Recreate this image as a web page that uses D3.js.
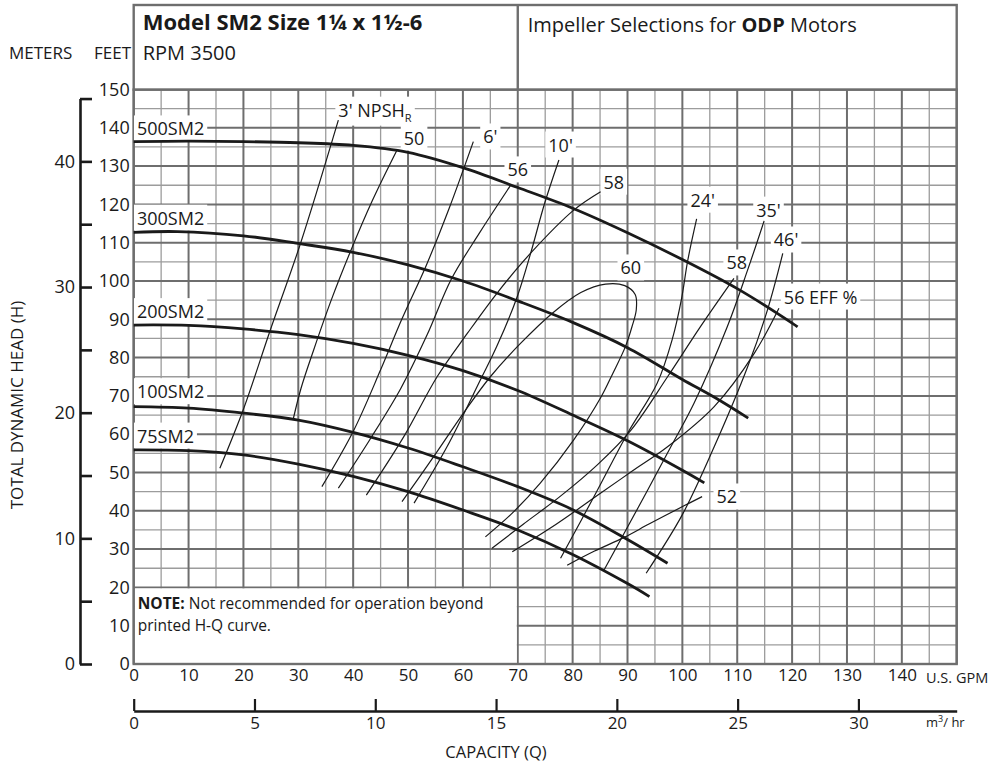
<!DOCTYPE html>
<html>
<head>
<meta charset="utf-8">
<script src="https://cdn.jsdelivr.net/npm/d3@7"></script>
<style>
  body { margin: 0; background: #fff; }
  svg { font-family: 'Open Sans', sans-serif; }
</style>
</head>
<body>
<svg id="chart" width="998" height="766"></svg>
<script>
// ---- ticks ----
const gpmTicks = [0, 10, 20, 30, 40, 50, 60, 70, 80, 90, 100, 110, 120, 130, 140];
const feetTicks = [0, 10, 20, 30, 40, 50, 60, 70, 80, 90, 100, 110, 120, 130, 140, 150];
const meterTicks = [0, 5, 10, 15, 20, 25, 30, 35, 40, 45];
const m3Ticks = [0, 5, 10, 15, 20, 25, 30];

// ---- head / capacity curves (GPM, feet) ----
const hq500 = [[0, 136.4], [10, 136.5], [20, 136.4], [30, 136.1], [40, 135.4], [50, 133.6], [60, 129.6], [70, 124.4], [80, 119], [90, 112.6], [100, 105.6], [110, 98], [120, 89], [121, 88]];
const hq300 = [[0, 112.7], [8, 112.9], [20, 111.8], [30, 109.8], [40, 107.5], [50, 104.2], [60, 100], [70, 94.8], [80, 89.2], [90, 82.6], [100, 74.3], [106, 69.5], [112, 64.2]];
const hq200 = [[0, 88.5], [10, 88.4], [20, 87.5], [30, 86], [40, 83.7], [50, 80.6], [60, 76.6], [70, 71.4], [80, 65], [90, 58.3], [100, 50.6], [104, 47.3]];
const hq100 = [[0, 67.2], [10, 66.8], [20, 65.5], [30, 63.7], [40, 60.5], [50, 56.4], [60, 51.5], [70, 46.3], [80, 40.3], [90, 32.5], [97.3, 26.3]];
const hq75 = [[0, 55.9], [10, 55.7], [20, 54.6], [30, 52.2], [40, 49], [50, 45], [60, 40.2], [70, 35], [80, 28.6], [90, 21], [94, 17.6]];
const hqNames = ['500SM2', '300SM2', '200SM2', '100SM2', '75SM2'];

// ---- NPSHr lines ----
const npsh3 = [[15.7, 51.1], [20, 66.5], [24.9, 87.2], [30.4, 109.8], [37.3, 142]];
const npsh6 = [[34.3, 46.3], [40, 60.7], [45, 76.8], [48.8, 89.8], [53.3, 104], [57.5, 119], [61.9, 136.4]];
const npsh10 = [[51.1, 42], [57.1, 56.7], [63.2, 74.2], [66.2, 83], [69.9, 95.9], [72.3, 107], [74.9, 120.3], [77.5, 131.6]];
const npsh24 = [[77.8, 27.6], [84, 44], [90, 60.2], [95.4, 73.3], [98.2, 85], [99.8, 95], [101, 105.5], [102.6, 116.2]];
const npsh35 = [[85.7, 24.5], [92, 41], [97.9, 56.7], [102.1, 68], [108.2, 88.1], [111.9, 102.9], [114.9, 115.7]];
const npsh46 = [[93.4, 23.7], [100, 39], [105.8, 56.7], [111.9, 77.6], [115.5, 92.4], [118.3, 107.2]];

// ---- efficiency lines ----
const eff50 = [[29.1, 64.1], [30.5, 72], [32.8, 82], [36, 95], [39.5, 107.7], [43.5, 121], [48, 134.2]];
const eff56a = [[37.3, 45.9], [43, 58.5], [48.7, 72], [53.5, 86], [57.9, 100.5], [63, 112.5], [68.7, 125]];
const eff58a = [[42.4, 44.1], [49.2, 59.3], [55.3, 75], [60.8, 86.3], [66.2, 96.8], [72.3, 107.2], [80.2, 118.5], [85.1, 123.3]];
const eff60 = [[48.9, 42.4], [54.7, 54.2], [60.1, 65.5], [65, 75], [70.5, 83.7], [76.3, 91.6], [81.5, 97], [86, 99.2], [89.5, 98.8], [91.4, 96.5], [91.6, 92.5], [90.8, 88], [89.6, 82.8], [87.3, 75.8], [85.1, 69.5], [80.2, 58.5], [74.1, 47.2], [69, 39.4], [64.1, 33.2]];
const eff58b = [[65.3, 30.2], [71, 36.5], [77.5, 43.5], [84.5, 52], [90.6, 61], [97.3, 75], [103.3, 88.1], [109.4, 100.7]];
const eff56b = [[69, 29.3], [77, 36.5], [85, 44.5], [91, 50.5], [97.3, 56.7], [105.8, 67.2], [113.1, 81.1], [117.6, 92.9]];
const eff52 = [[79, 25.8], [84, 29.5], [89.3, 33], [94, 36.6], [100.3, 41.3], [103.6, 43.7]];

// ---- annotation anchors (GPM, feet) ----
const hqLabelAt = [[0.6, 139.7], [0.6, 116.4], [0.6, 92], [0.6, 71.1], [0.6, 59.5]];
const lineLabels = [
  ['50', 51.1, 137.3], ["6'", 65, 137.6], ['56', 70, 129], ["10'", 77.8, 135.5],
  ['58', 87.5, 125.8], ['60', 90.6, 103.4], ["24'", 103.7, 121.1], ['58', 109.9, 104.7],
  ["35'", 115.7, 118.5], ["46'", 118.9, 110.7], ['52', 108.1, 43.6]
];

const FT_PER_M = 3.2808;
const GPM_PER_M3H = 4.4029;

const svg = d3.select('#chart');
const x = d3.scaleLinear().domain([0, 150]).range([133.7, 956.7]);
const y = d3.scaleLinear().domain([0, 150]).range([664, 89.5]);
const gridCol = '#6e6e6e';
const ink = '#1a1a1a';

// grid
const grid = svg.append('g');
const qs = x.ticks(30);
const hs = y.ticks(30);
grid.selectAll('.vminor').data(qs.filter(d => d % 10)).enter().append('line')
  .attr('x1', d => x(d)).attr('x2', d => x(d)).attr('y1', y(0)).attr('y2', y(150))
  .attr('stroke', '#9c9c9c').attr('stroke-width', 1.3);
grid.selectAll('.hminor').data(hs.filter(d => d % 10)).enter().append('line')
  .attr('y1', d => y(d)).attr('y2', d => y(d)).attr('x1', x(0)).attr('x2', x(150))
  .attr('stroke', '#9c9c9c').attr('stroke-width', 1.3);
grid.selectAll('.vmajor').data(qs.filter(d => d % 10 === 0)).enter().append('line')
  .attr('x1', d => x(d)).attr('x2', d => x(d)).attr('y1', y(0)).attr('y2', y(150))
  .attr('stroke', gridCol).attr('stroke-width', 2);
grid.selectAll('.hmajor').data(hs.filter(d => d % 10 === 0)).enter().append('line')
  .attr('y1', d => y(d)).attr('y2', d => y(d)).attr('x1', x(0)).attr('x2', x(150))
  .attr('stroke', gridCol).attr('stroke-width', 2);

// note box blanks the grid in the lower left
grid.append('rect')
  .attr('x', x(0) + 1).attr('y', y(20) + 1)
  .attr('width', x(70) - x(0) - 2).attr('height', y(0) - y(20) - 2)
  .attr('fill', '#fff');

// plot frame + header box
svg.append('rect').attr('x', x(0)).attr('y', y(150)).attr('width', x(150) - x(0)).attr('height', y(0) - y(150))
  .attr('fill', 'none').attr('stroke', gridCol).attr('stroke-width', 2.4);
svg.append('rect').attr('x', x(0)).attr('y', 5).attr('width', x(150) - x(0)).attr('height', y(150) - 5)
  .attr('fill', '#fff').attr('stroke', gridCol).attr('stroke-width', 2.4);
svg.append('line').attr('x1', x(70)).attr('x2', x(70)).attr('y1', 5).attr('y2', y(150))
  .attr('stroke', gridCol).attr('stroke-width', 2.4);

// header text
svg.append('text').attr('x', x(0) + 9).attr('y', 30).attr('font-size', 22)
  .attr('font-weight', 700).attr('fill', ink).text('Model SM2 Size 1¼ x 1½-6');
svg.append('text').attr('x', x(0) + 9).attr('y', 60).attr('font-size', 20).attr('fill', ink).text('RPM 3500');
const imp = svg.append('text').attr('x', x(70) + 10).attr('y', 32).attr('font-size', 20).attr('fill', ink);
imp.append('tspan').text('Impeller Selections for ');
imp.append('tspan').attr('font-weight', 700).text('ODP');
imp.append('tspan').text(' Motors');

svg.append('text').attr('x', 9).attr('y', 59).attr('font-size', 17).attr('fill', ink).text('METERS');
svg.append('text').attr('x', 131).attr('y', 59).attr('font-size', 17).attr('text-anchor', 'end').attr('fill', ink).text('FEET');

// note text
const note = svg.append('text').attr('x', x(0) + 4).attr('y', y(20) + 22).attr('font-size', 15.5).attr('fill', ink);
note.append('tspan').attr('font-weight', 700).text('NOTE:');
note.append('tspan').text(' Not recommended for operation beyond');
svg.append('text').attr('x', x(0) + 4).attr('y', y(20) + 43.5).attr('font-size', 15.5).attr('fill', ink).text('printed H-Q curve.');

// feet axis (labels only)
const feetAxis = svg.append('g').attr('transform', `translate(${x(0) - 2},0)`)
  .call(d3.axisLeft(y).tickValues(feetTicks).tickSize(0).tickPadding(2));
feetAxis.select('.domain').remove();
feetAxis.selectAll('text').attr('font-size', 18).attr('font-family', 'Open Sans').attr('fill', ink);

// meters axis
const m = d3.scaleLinear().domain([0, 45]).range([y(0), y(45 * FT_PER_M)]);
const meterAxis = svg.append('g').attr('transform', 'translate(80,0)')
  .call(d3.axisLeft(m).tickValues(meterTicks).tickSizeInner(-12).tickSizeOuter(0).tickPadding(5)
    .tickFormat(d => (d % 10 === 0 ? d : '')));
meterAxis.select('.domain').attr('stroke', ink).attr('stroke-width', 2.6);
meterAxis.selectAll('.tick line').attr('stroke', ink).attr('stroke-width', 2.6);
meterAxis.selectAll('text').attr('font-size', 18).attr('font-family', 'Open Sans').attr('fill', ink);

// GPM axis (labels only)
const gpmAxis = svg.append('g').attr('transform', `translate(0,${y(0)})`)
  .call(d3.axisBottom(x).tickValues(gpmTicks).tickSize(0).tickPadding(5));
gpmAxis.select('.domain').remove();
gpmAxis.selectAll('text').attr('font-size', 17).attr('font-family', 'Open Sans').attr('fill', ink);
svg.append('text').attr('x', x(144.4)).attr('y', 683).attr('font-size', 14.5).attr('fill', ink).text('U.S. GPM');

// m3/hr axis
const q3 = d3.scaleLinear().domain([0, 150 / GPM_PER_M3H]).range([x(0), x(150)]);
const m3Axis = svg.append('g').attr('transform', 'translate(0,711)')
  .call(d3.axisBottom(q3).tickValues(m3Ticks).tickSizeInner(-12).tickSizeOuter(0).tickPadding(6));
m3Axis.select('.domain').attr('stroke', ink).attr('stroke-width', 2.6);
m3Axis.selectAll('.tick line').attr('stroke', ink).attr('stroke-width', 2.2);
m3Axis.selectAll('text').attr('font-size', 17).attr('font-family', 'Open Sans').attr('fill', ink);
const m3u = svg.append('text').attr('x', q3(32.8)).attr('y', 727).attr('font-size', 13).attr('fill', ink);
m3u.append('tspan').text('m');
m3u.append('tspan').attr('font-size', 9).attr('dy', -5).text('3');
m3u.append('tspan').attr('dy', 5).text('/ hr');

svg.append('text').attr('x', 496).attr('y', 758).attr('text-anchor', 'middle').attr('font-size', 16.5)
  .attr('fill', ink).text('CAPACITY (Q)');
svg.append('text').attr('transform', 'translate(23,405) rotate(-90)').attr('text-anchor', 'middle')
  .attr('font-size', 17).attr('fill', ink).text('TOTAL DYNAMIC HEAD (H)');

// labels with white boxes (drawn under curves, over grid)
const boxLayer = svg.append('g');
const curveLayer = svg.append('g');
const textLayer = svg.append('g');

function label(txt, q, h, anchor, size, sub) {
  const t = textLayer.append('text').attr('x', x(q)).attr('y', y(h)).attr('dy', '0.36em')
    .attr('text-anchor', anchor).attr('font-size', size).attr('fill', ink).text(txt);
  if (sub) t.append('tspan').attr('font-size', 11).attr('dy', '0.45em').text(sub);
  const b = t.node().getBBox();
  boxLayer.append('rect').attr('x', b.x - 3).attr('y', b.y - 1).attr('width', b.width + 6).attr('height', b.height + 2)
    .attr('fill', '#fff');
  return t;
}

hqNames.forEach((n, i) => label(n, hqLabelAt[i][0], hqLabelAt[i][1], 'start', 18));
lineLabels.forEach(d => label(d[0], d[1], d[2], 'middle', 18));
label("3' NPSH", 37.3, 144.6, 'start', 18, 'R');
label('56 EFF %', 118.5, 95.8, 'start', 18);

// curves
const line = d3.line().x(d => x(d[0])).y(d => y(d[1])).curve(d3.curveCatmullRom.alpha(0.5));
curveLayer.selectAll('.hq').data([hq500, hq300, hq200, hq100, hq75]).enter().append('path')
  .attr('d', line).attr('fill', 'none').attr('stroke', ink).attr('stroke-width', 2.8);
curveLayer.selectAll('.thin').data([npsh3, npsh6, npsh10, npsh24, npsh35, npsh46, eff50, eff56a, eff58a, eff60, eff58b, eff56b, eff52])
  .enter().append('path')
  .attr('d', line).attr('fill', 'none').attr('stroke', ink).attr('stroke-width', 1.2);
</script>
</body>
</html>
